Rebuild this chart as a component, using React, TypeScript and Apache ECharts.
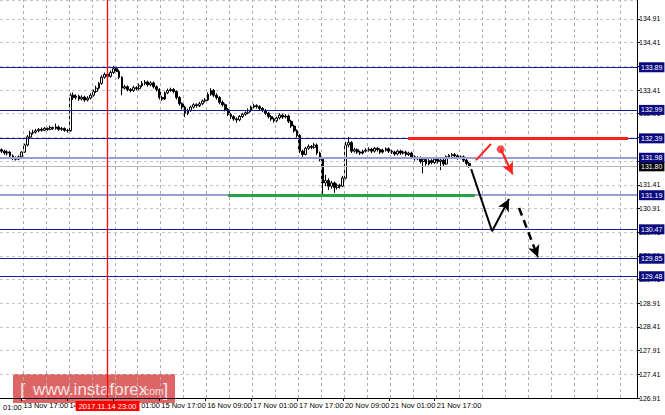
import React, { useEffect, useRef } from "react";
import * as echarts from "echarts";

// ---------- data ----------
const PRICE_BOTTOM = 126.91;
const PRICE_TOP = 135.31;
const PRICE_STEP = 0.5;
const SLOT_COUNT = 222; // hourly slots shown on the time axis (incl. empty space on the right)
const START_UTC = Date.UTC(2017, 10, 13, 10); // first bar: 13 Nov 2017 10:00
const MONTHS = ["Jan", "Feb", "Mar", "Apr", "May", "Jun", "Jul", "Aug", "Sep", "Oct", "Nov", "Dec"];
const FIRST_LABEL_INDEX = 7; // 13 Nov 17:00
const LABEL_EVERY = 16;
const GRID_EVERY = 8;
const VLINE_INDEX = 37;
const VLINE_LABEL = "2017.11.14 23:00";
const CUT_LABEL = "01:00";

// H1 candles: [open, close, low, high]
const OHLC: number[][] = [
  [132.15, 132.12, 132.08, 132.18], [132.12, 132.08, 132.04, 132.15], [132.08, 132.10, 132.03, 132.14],
  [132.10, 132.02, 131.99, 132.12], [132.02, 131.98, 131.93, 132.05], [131.98, 131.95, 131.92, 132.01],
  [131.95, 132.00, 131.93, 132.03], [132.00, 132.10, 131.98, 132.12], [132.10, 132.25, 132.08, 132.28],
  [132.25, 132.42, 132.22, 132.46], [132.42, 132.50, 132.40, 132.55], [132.50, 132.52, 132.47, 132.57],
  [132.52, 132.55, 132.49, 132.59], [132.55, 132.58, 132.52, 132.61], [132.58, 132.56, 132.53, 132.62],
  [132.56, 132.60, 132.54, 132.63], [132.60, 132.58, 132.55, 132.62], [132.58, 132.62, 132.56, 132.66],
  [132.62, 132.60, 132.57, 132.64], [132.60, 132.63, 132.57, 132.70], [132.63, 132.58, 132.55, 132.66],
  [132.58, 132.60, 132.55, 132.63], [132.60, 132.56, 132.53, 132.62], [132.56, 132.55, 132.51, 132.59],
  [132.55, 133.30, 132.53, 133.34], [133.30, 133.25, 133.20, 133.36], [133.25, 133.28, 133.21, 133.32],
  [133.28, 133.22, 133.18, 133.31], [133.22, 133.26, 133.19, 133.30], [133.26, 133.20, 133.16, 133.29],
  [133.20, 133.24, 133.17, 133.28], [133.24, 133.30, 133.21, 133.34], [133.30, 133.38, 133.27, 133.42],
  [133.38, 133.45, 133.35, 133.50], [133.45, 133.55, 133.42, 133.58], [133.55, 133.68, 133.52, 133.72],
  [133.68, 133.74, 133.65, 133.78], [133.74, 133.70, 133.66, 133.77], [133.70, 133.78, 133.67, 133.82],
  [133.78, 133.86, 133.75, 133.92], [133.86, 133.80, 133.76, 133.90], [133.80, 133.68, 133.64, 133.84],
  [133.68, 133.45, 133.30, 133.70], [133.45, 133.48, 133.42, 133.52], [133.48, 133.42, 133.38, 133.51],
  [133.42, 133.40, 133.36, 133.45], [133.40, 133.46, 133.37, 133.50], [133.46, 133.44, 133.40, 133.49],
  [133.44, 133.50, 133.41, 133.55], [133.50, 133.55, 133.47, 133.60], [133.55, 133.58, 133.51, 133.62],
  [133.58, 133.52, 133.48, 133.61], [133.52, 133.56, 133.49, 133.60], [133.56, 133.48, 133.44, 133.59],
  [133.48, 133.42, 133.38, 133.51], [133.42, 133.25, 133.21, 133.45], [133.25, 133.22, 133.18, 133.29],
  [133.22, 133.35, 133.20, 133.38], [133.35, 133.40, 133.32, 133.44], [133.40, 133.42, 133.37, 133.46],
  [133.42, 133.38, 133.34, 133.45], [133.38, 133.25, 133.21, 133.40], [133.25, 133.12, 133.08, 133.28],
  [133.12, 133.05, 133.00, 133.15], [133.05, 132.92, 132.84, 133.08], [132.92, 132.98, 132.88, 133.02],
  [132.98, 133.05, 132.95, 133.08], [133.05, 133.10, 133.02, 133.13], [133.10, 133.08, 133.04, 133.13],
  [133.08, 133.12, 133.05, 133.16], [133.12, 133.18, 133.09, 133.21], [133.18, 133.20, 133.15, 133.24],
  [133.20, 133.32, 133.18, 133.36], [133.32, 133.40, 133.29, 133.45], [133.40, 133.30, 133.26, 133.43],
  [133.30, 133.25, 133.21, 133.34], [133.25, 133.15, 133.11, 133.28], [133.15, 133.10, 133.06, 133.19],
  [133.10, 133.00, 132.96, 133.13], [133.00, 132.90, 132.86, 133.03], [132.90, 132.85, 132.80, 132.93],
  [132.85, 132.80, 132.76, 132.88], [132.80, 132.78, 132.72, 132.83], [132.78, 132.85, 132.75, 132.88],
  [132.85, 132.90, 132.82, 132.93], [132.90, 132.93, 132.87, 132.96], [132.93, 132.98, 132.90, 133.02],
  [132.98, 133.05, 132.95, 133.08], [133.05, 133.08, 133.02, 133.12], [133.08, 133.06, 133.02, 133.11],
  [133.06, 133.02, 132.98, 133.09], [133.02, 132.98, 132.94, 133.05], [132.98, 132.92, 132.88, 133.01],
  [132.92, 132.85, 132.81, 132.95], [132.85, 132.80, 132.76, 132.88], [132.80, 132.76, 132.72, 132.83],
  [132.76, 132.82, 132.73, 132.85], [132.82, 132.88, 132.79, 132.92], [132.88, 132.84, 132.80, 132.91],
  [132.84, 132.86, 132.81, 132.90], [132.86, 132.75, 132.71, 132.89], [132.75, 132.65, 132.61, 132.78],
  [132.65, 132.55, 132.51, 132.68], [132.55, 132.45, 132.41, 132.58], [132.45, 132.12, 132.08, 132.48],
  [132.12, 132.05, 132.00, 132.15], [132.05, 132.18, 132.03, 132.21], [132.18, 132.22, 132.15, 132.26],
  [132.22, 132.20, 132.16, 132.25], [132.20, 132.25, 132.17, 132.29], [132.25, 132.08, 132.04, 132.28],
  [132.08, 131.95, 131.91, 132.11], [131.95, 131.45, 131.21, 131.98], [131.45, 131.50, 131.38, 131.62],
  [131.50, 131.38, 131.30, 131.55], [131.38, 131.45, 131.33, 131.49], [131.45, 131.35, 131.24, 131.48],
  [131.35, 131.40, 131.31, 131.44], [131.40, 131.38, 131.33, 131.43], [131.38, 131.55, 131.36, 131.60],
  [131.55, 132.25, 131.52, 132.32], [132.25, 132.30, 132.20, 132.42], [132.30, 132.12, 132.08, 132.33],
  [132.12, 132.15, 132.09, 132.19], [132.15, 132.10, 132.06, 132.18], [132.10, 132.08, 132.04, 132.13],
  [132.08, 132.12, 132.05, 132.15], [132.12, 132.14, 132.09, 132.18], [132.14, 132.16, 132.11, 132.20],
  [132.16, 132.12, 132.08, 132.19], [132.12, 132.18, 132.09, 132.21], [132.18, 132.15, 132.11, 132.21],
  [132.15, 132.10, 132.06, 132.18], [132.10, 132.14, 132.07, 132.17], [132.14, 132.17, 132.11, 132.20],
  [132.17, 132.12, 132.08, 132.20], [132.12, 132.10, 132.06, 132.15], [132.10, 132.06, 132.02, 132.13],
  [132.06, 132.12, 132.03, 132.15], [132.12, 132.08, 132.04, 132.15], [132.08, 132.10, 132.05, 132.13],
  [132.10, 132.05, 132.01, 132.13], [132.05, 132.08, 132.02, 132.11], [132.08, 132.00, 131.96, 132.11],
  [132.00, 131.96, 131.92, 132.03], [131.96, 131.98, 131.93, 132.01], [131.98, 131.90, 131.86, 132.01],
  [131.90, 131.95, 131.65, 131.98], [131.95, 131.85, 131.81, 131.98], [131.85, 131.92, 131.82, 131.95],
  [131.92, 131.88, 131.84, 131.95], [131.88, 131.95, 131.85, 131.98], [131.95, 131.90, 131.86, 131.98],
  [131.90, 131.93, 131.72, 131.96], [131.93, 131.85, 131.80, 131.96], [131.85, 132.00, 131.83, 132.03],
  [132.00, 132.03, 131.97, 132.06], [132.03, 132.05, 132.00, 132.08], [132.05, 132.02, 131.98, 132.08],
  [132.02, 131.98, 131.94, 132.05], [131.98, 132.00, 131.95, 132.03], [132.00, 131.93, 131.89, 132.03],
  [131.93, 131.86, 131.82, 131.96], [131.86, 131.80, 131.77, 131.89],
];

// horizontal price levels
const LEVELS_DARK = [133.89, 132.99, 132.39, 130.47, 129.85, 129.48];
const LEVELS_LIGHT = [131.98, 131.19];
const BID_PRICE = 131.8;

// drawn annotations: [slot index, price]
const RESISTANCE: number[][] = [[141.7, 132.39], [218.4, 132.39]];
const SUPPORT: number[][] = [[79.0, 131.19], [165.0, 131.19]];
const RED_TICK: number[][] = [[165.4, 131.93], [170.6, 132.27]];
const RED_DOT: number[] = [174.0, 132.16];
const RED_ARROW: number[][] = [[174.0, 132.16], [178.2, 131.63]];
const BLACK_DROP: number[][] = [[163.7, 131.74], [171.0, 130.43]];
const BLACK_UP: number[][] = [[171.0, 130.43], [176.9, 131.11]];
const BLACK_DASH: number[][] = [[180.4, 130.92], [187.0, 129.88]];

// ---------- helpers ----------
const pad2 = (n: number) => (n < 10 ? "0" + n : "" + n);
function buildCategories(): string[] {
  const out: string[] = [];
  let t = START_UTC;
  while (out.length < SLOT_COUNT) {
    const d = new Date(t);
    const wd = d.getUTCDay();
    if (wd !== 0 && wd !== 6) {
      out.push(`${d.getUTCDate()} ${MONTHS[d.getUTCMonth()]} ${pad2(d.getUTCHours())}:00`);
    }
    t += 3600 * 1000;
  }
  return out;
}
const CATEGORIES = buildCategories();
const SPAN = Number((PRICE_TOP - PRICE_BOTTOM).toFixed(2));
const X_MIN = -0.5;
const X_MAX = SLOT_COUNT - 0.5;

const FONT = "Liberation Sans";

export default function App() {
  const ref = useRef<HTMLDivElement>(null);
  useEffect(() => {
    document.body.style.margin = "0";
    if (!ref.current) return;
    const chart = echarts.init(ref.current, null, { renderer: "svg" });

    const labelInterval = (idx: number) =>
      idx >= FIRST_LABEL_INDEX && (idx - FIRST_LABEL_INDEX) % LABEL_EVERY === 0 && idx < OHLC.length;

    // vertical grid positions: boundary after every 8th slot, starting at the first label
    const vGrid: number[] = [];
    for (let s = FIRST_LABEL_INDEX + 0.5 - GRID_EVERY; s < X_MAX; s += GRID_EVERY) {
      if (s > X_MIN) vGrid.push(s);
    }

    const levelLabel = (bg: string) => ({
      show: true,
      position: "end",
      distance: 2,
      formatter: (p: any) => Number(p.value).toFixed(2),
      backgroundColor: bg,
      color: "#ffffff",
      fontSize: 7,
      fontFamily: FONT,
      padding: [2, 2, 1, 2],
    });

    const pair = (pts: number[][], extra: any = {}) => [
      { coord: pts[0], ...extra },
      { coord: pts[1], ...extra },
    ];
    const hLine = (v: number) => pair([[X_MIN, v], [X_MAX, v]], { value: v });
    const vLine = (s: number) => pair([[s, PRICE_BOTTOM], [s, PRICE_TOP]]);

    // carrier series that only hold a markLine group with a shared style
    const carrier = (lineStyle: any, data: any[], more: any = {}, seriesExtra: any = {}) => ({
      type: "scatter",
      xAxisIndex: 1,
      yAxisIndex: 0,
      data: [],
      silent: true,
      ...seriesExtra,
      markLine: {
        silent: true,
        animation: false,
        symbol: ["none", "none"],
        label: { show: false },
        lineStyle,
        data,
        ...more,
      },
    });

    const option: any = {
      animation: false,
      backgroundColor: "#ffffff",
      grid: { left: 0, right: 28, top: 0, bottom: 17, containLabel: false },
      xAxis: [
        {
          type: "category",
          data: CATEGORIES,
          boundaryGap: true,
          axisLine: { show: true, onZero: false, lineStyle: { color: "#000000", width: 1 } },
          axisTick: {
            show: true,
            alignWithLabel: true,
            length: 3,
            interval: labelInterval,
            lineStyle: { color: "#000000" },
          },
          axisLabel: {
            interval: labelInterval,
            align: "left",
            fontSize: 7.5,
            fontFamily: FONT,
            color: "#000000",
            margin: 3,
            padding: [0, 0, 0, 2],
          },
          splitLine: { show: false },
        },
        {
          type: "value",
          min: X_MIN,
          max: X_MAX,
          show: false,
          position: "top",
          splitLine: { show: false },
        },
      ],
      yAxis: [
        {
          type: "value",
          min: PRICE_BOTTOM,
          max: PRICE_TOP,
          show: false,
          position: "left",
          splitLine: { show: false },
        },
        {
          type: "value",
          min: 0,
          max: SPAN,
          interval: PRICE_STEP,
          position: "right",
          axisLine: { show: true, lineStyle: { color: "#000000", width: 1 } },
          axisTick: { show: true, length: 3, lineStyle: { color: "#000000" } },
          axisLabel: {
            formatter: (v: number) => (v + PRICE_BOTTOM).toFixed(2),
            fontSize: 7,
            fontFamily: FONT,
            color: "#000000",
            margin: 2,
            showMaxLabel: false,
          },
          splitLine: { show: true, lineStyle: { color: "#c4c4c4", width: 1, type: [3, 3] } },
        },
      ],
      series: [
        // vertical dashed grid
        carrier({ color: "#aeaeae", width: 1, type: [3, 3] }, vGrid.map(vLine)),
        // gray bid line
        carrier({ color: "#b8b8b8", width: 1, type: "solid" }, [hLine(BID_PRICE)], {
          label: levelLabel("#000000"),
        }),
        // light levels
        carrier({ color: "#9c9cd4", width: 2, type: "solid" }, LEVELS_LIGHT.map(hLine), {
          label: levelLabel("#0a0a80"),
        }),
        // dark levels
        carrier({ color: "#1c1c8e", width: 1, type: "solid" }, LEVELS_DARK.map(hLine), {
          label: levelLabel("#0a0a80"),
        }),
        // red vertical line
        carrier({ color: "#ff0000", width: 1.3, type: "solid" }, [vLine(VLINE_INDEX)]),
        carrier({ color: "rgba(255,0,0,0)", width: 1, type: "solid" }, [vLine(VLINE_INDEX)], {
          label: {
            show: true,
            position: "start",
            distance: 3,
            formatter: VLINE_LABEL,
            backgroundColor: "#ff0000",
            color: "#ffffff",
            fontSize: 7.5,
            fontFamily: FONT,
            padding: [1, 3, 1, 3],
          },
        }),
        {
          type: "candlestick",
          xAxisIndex: 0,
          yAxisIndex: 0,
          data: OHLC,
          barWidth: "80%",
          itemStyle: {
            color: "#ffffff",
            color0: "#000000",
            borderColor: "#000000",
            borderColor0: "#000000",
            borderWidth: 1,
          },
        },
        // resistance (red) and support (green) segments
        carrier({ color: "#ff1e1e", width: 3, type: "solid" }, [pair(RESISTANCE)]),
        carrier({ color: "#27a047", width: 3, type: "solid" }, [pair(SUPPORT)]),
        // red stroke + red arrow + red dot
        carrier({ color: "#ff2020", width: 2, type: "solid" }, [pair(RED_TICK)]),
        carrier(
          { color: "#ff2020", width: 2, type: "solid" },
          [pair(RED_ARROW)],
          { symbol: ["none", "arrow"], symbolSize: [9, 12] },
          { data: [RED_DOT], symbol: "circle", symbolSize: 8, itemStyle: { color: "#ff2020" } }
        ),
        // black projection
        carrier({ color: "#000000", width: 2, type: "solid" }, [pair(BLACK_DROP)]),
        carrier({ color: "#000000", width: 2, type: "solid" }, [pair(BLACK_UP)], {
          symbol: ["none", "arrow"],
          symbolSize: [9, 12],
        }),
        carrier({ color: "#000000", width: 2.5, type: [8, 5] }, [pair(BLACK_DASH)], {
          symbol: ["none", "arrow"],
          symbolSize: [9, 12],
        }),
      ],
      graphic: [
        {
          type: "text",
          left: 3,
          top: 403,
          style: { text: CUT_LABEL, fontSize: 7.5, fontFamily: FONT, fill: "#000000" },
          z: 10,
        },
        {
          type: "group",
          left: 13,
          top: 374,
          z: 20,
          children: [
            {
              type: "rect",
              shape: { x: 0, y: 0, width: 162, height: 29 },
              style: { fill: "rgba(214,62,62,0.8)" },
            },
            {
              type: "text",
              x: 7,
              y: 15,
              style: { text: "[", fontSize: 19, fontFamily: FONT, fill: "#f6e2e2", verticalAlign: "middle" },
            },
            {
              type: "text",
              x: 20,
              y: 15,
              style: {
                text: "www.instaforex",
                fontSize: 17,
                fontFamily: FONT,
                fill: "#f6e2e2",
                verticalAlign: "middle",
              },
            },
            {
              type: "text",
              x: 128,
              y: 16.5,
              style: { text: ".com", fontSize: 10.5, fontFamily: FONT, fill: "#f6e2e2", verticalAlign: "middle" },
            },
            {
              type: "text",
              x: 150,
              y: 15,
              style: { text: "]", fontSize: 19, fontFamily: FONT, fill: "#f6e2e2", verticalAlign: "middle" },
            },
          ],
        },
      ],
    };

    chart.setOption(option);
    return () => chart.dispose();
  }, []);

  return <div ref={ref} style={{ width: 665, height: 415 }} />;
}
